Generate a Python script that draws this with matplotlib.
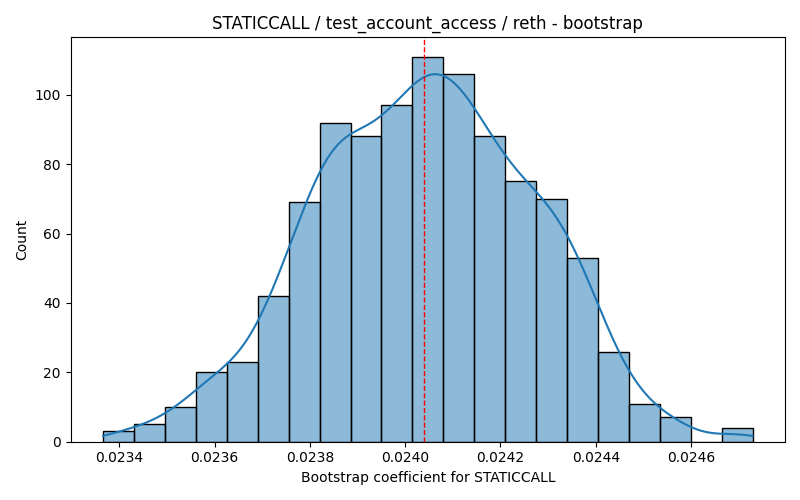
import math
import numpy as np
import matplotlib
matplotlib.use("Agg")
import matplotlib.pyplot as plt

# bins (21 bins, 1000 bootstrap samples)
bin_lo = 0.023366
bin_hi = 0.024729
counts = [3, 5, 10, 20, 23, 42, 69, 92, 88, 97, 111, 106, 88, 75, 70, 53, 26, 11, 7, 0, 4]
ref_value = 0.0240395

edges = np.linspace(bin_lo, bin_hi, len(counts) + 1)
widths = np.diff(edges)
counts_arr = np.array(counts, dtype=float)
n = counts_arr.sum()

# KDE smoothed from the binned counts (uniform within bins, scott-ish bandwidth)
centers = (edges[:-1] + edges[1:]) / 2
mean = np.sum(centers * counts_arr) / n
var = np.sum(counts_arr * (centers - mean) ** 2) / (n - 1)
bw = 0.85 * math.sqrt(var) * n ** (-1 / 5)

erf = np.frompyfunc(math.erf, 1, 1)


def phi(z):
    return 0.5 * (1 + erf(z / math.sqrt(2)).astype(float))


xs = np.linspace(bin_lo, bin_hi, 400)
dens = np.zeros_like(xs)
for a, b, c in zip(edges[:-1], edges[1:], counts_arr):
    if c == 0:
        continue
    dens += c * (phi((xs - a) / bw) - phi((xs - b) / bw)) / (b - a)
dens = dens / n
kde_counts = dens * n * widths[0]

fig, ax = plt.subplots(figsize=(8, 5), dpi=100)
ax.bar(edges[:-1], counts, width=widths, align="edge",
       facecolor=(0.1216, 0.4667, 0.7059, 0.5), edgecolor="black", linewidth=1)
ax.plot(xs, kde_counts, color="#1f77b4", linewidth=1.5)
ax.axvline(ref_value, color="red", linestyle="--", linewidth=1)

ax.set_title("STATICCALL / test_account_access / reth - bootstrap")
ax.set_xlabel("Bootstrap coefficient for STATICCALL")
ax.set_ylabel("Count")

fig.tight_layout()
fig.savefig("out.png")
